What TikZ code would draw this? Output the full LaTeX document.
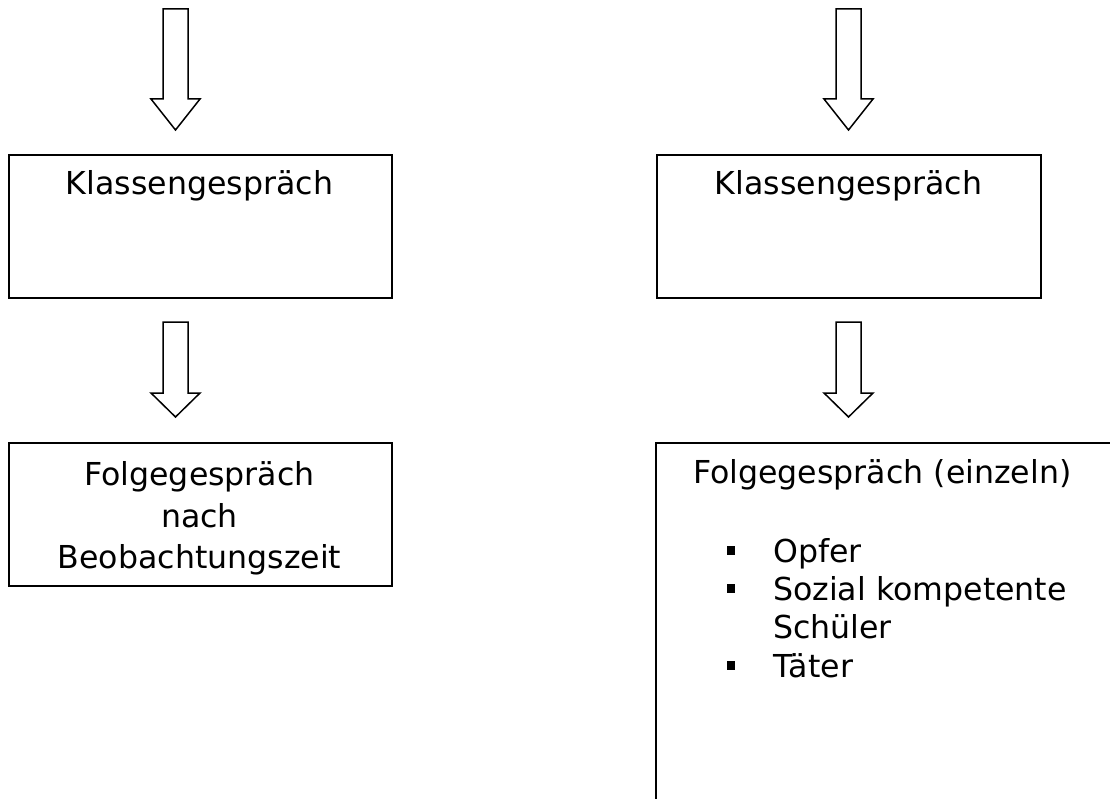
\documentclass[tikz,border=0pt]{standalone}
\usepackage{fontspec}
\setmainfont{DejaVu Sans}
\begin{document}
\begin{tikzpicture}[x=1pt,y=-1pt,
  box/.style={draw=black,line width=2.2pt,rectangle,inner sep=0pt,anchor=north west},
  txt/.style={inner sep=0pt,font=\fontsize{31.6}{41.5}\selectfont},
  bul/.style={fill=black,inner sep=0pt,minimum width=8pt,minimum height=9pt,rectangle},
  pics/blockarr/.style n args={2}{code={
    \draw[line width=1.5pt,line join=miter,fill=white]
      (-12.5,0) -- (12.5,0) -- (12.5,#1) -- (24.5,#1) -- (0,#2) -- (-24.5,#1) -- (-12.5,#1) -- cycle;
  }}]
\useasboundingbox (0,0) rectangle (1110,799);
\fill[white] (0,0) rectangle (1110,799);
\begin{scope}
\clip (0,0) rectangle (1110,799);
% boxes
\node[box,minimum width=383pt,minimum height=143pt] (b1) at (8,154) {};
\node[box,minimum width=383pt,minimum height=143pt] (b2) at (8,442) {};
\node[box,minimum width=384pt,minimum height=143pt] (b3) at (656,154) {};
\node[box,minimum width=480pt,minimum height=400pt] (b4) at (655,442) {};
% arrows
\coordinate (a1) at (175.5,9);
\coordinate (a2) at (175.5,322);
\coordinate (a3) at (848.5,9);
\coordinate (a4) at (848.5,322);
\pic at (a1) {blockarr={90}{121}};
\pic at (a2) {blockarr={71}{95}};
\pic at (a3) {blockarr={90}{121}};
\pic at (a4) {blockarr={71}{95}};
% texts
\node[txt,anchor=base] (t1) at (199.5,195) {Klassengespräch};
\node[txt,anchor=base] (t3) at (848.5,195) {Klassengespräch};
\node[txt,anchor=base] (t2a) at (199.5,485) {Folgegespräch};
\node[txt,anchor=base] (t2b) at (199.5,527) {nach};
\node[txt,anchor=base] (t2c) at (199.5,568.5) {Beobachtungszeit};
\node[txt,anchor=base west] (t4) at (693,483) {Folgegespräch (einzeln)};
\node[txt,anchor=base west] (o1) at (773,562) {Opfer};
\node[txt,anchor=base west] (o2) at (773,600.3) {Sozial kompetente};
\node[txt,anchor=base west] (o2b) at (773,638.6) {Schüler};
\node[txt,anchor=base west] (o3) at (773,677) {Täter};
\node[bul] (p1) at (731,550.5) {};
\node[bul] (p2) at (731,588.8) {};
\node[bul] (p3) at (731,665.5) {};
\end{scope}
\end{tikzpicture}
\end{document}
